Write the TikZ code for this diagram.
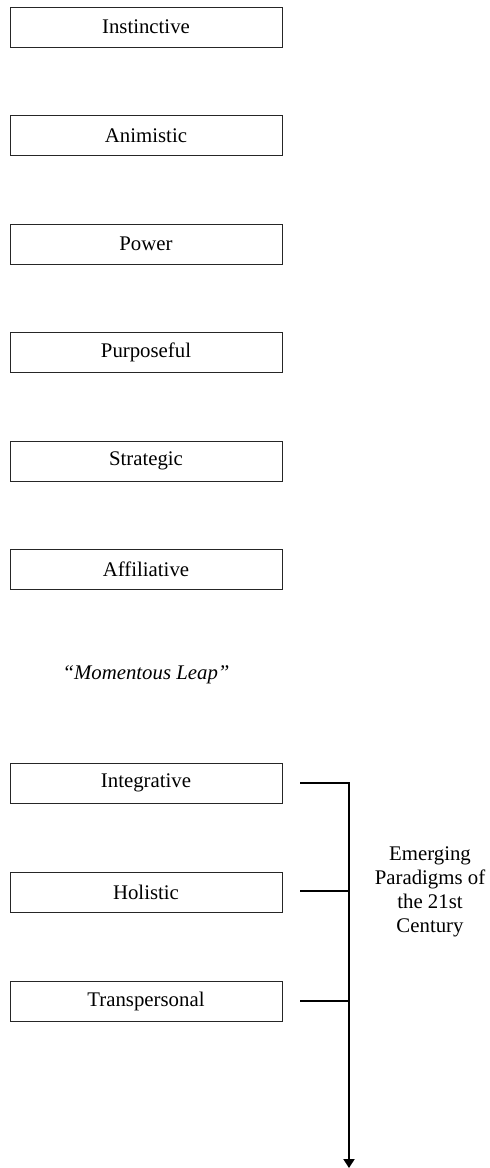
\documentclass[tikz,border=0pt]{standalone}
\usepackage{fontspec}
\setmainfont{Liberation Serif}
\usetikzlibrary{arrows.meta}
\begin{document}
\begin{tikzpicture}[x=1pt,y=-1pt,
  stage/.style={draw=black!85, line width=1pt, minimum width=272pt, minimum height=40pt,
    inner sep=0pt, font=\fontsize{20.8}{24}\selectfont},
  link/.style={line width=2pt},
  note/.style={font=\fontsize{20.8}{24}\selectfont, align=center}]
\useasboundingbox (0,0) rectangle (490,1168);
% classic stages
\node[stage] (s1) at (146,27) {Instinctive};
\node[stage] (s2) at (146,135.5) {Animistic};
\node[stage] (s3) at (146,244) {Power};
\node[stage] (s4) at (146,352.5) {Purposeful};
\node[stage] (s5) at (146,461) {Strategic};
\node[stage] (s6) at (146,569.5) {Affiliative};
\node[note, font=\fontsize{20.8}{24}\selectfont\itshape] (leap) at (146,675) {“Momentous Leap”};
% emerging stages
\node[stage] (e1) at (146,783) {Integrative};
\node[stage] (e2) at (146,892) {Holistic};
\node[stage] (e3) at (146,1001) {Transpersonal};
% bracket
\coordinate (a1) at (300,783);
\coordinate (a2) at (300,891);
\coordinate (a3) at (300,1001);
\coordinate (j1) at (349,783);
\coordinate (j2) at (349,891);
\coordinate (j3) at (349,1001);
\coordinate (tip) at (349,1168);
\draw[link] (a1) -- ([xshift=1pt]j1);
\draw[link] (a2) -- (j2);
\draw[link] (a3) -- (j3);
\draw[link, -{Triangle[length=9pt,width=11pt]}] (j1) -- (tip);
\node[note] (emerg) at (430,892) {Emerging\\Paradigms of\\the 21st\\Century};
\end{tikzpicture}
\end{document}
